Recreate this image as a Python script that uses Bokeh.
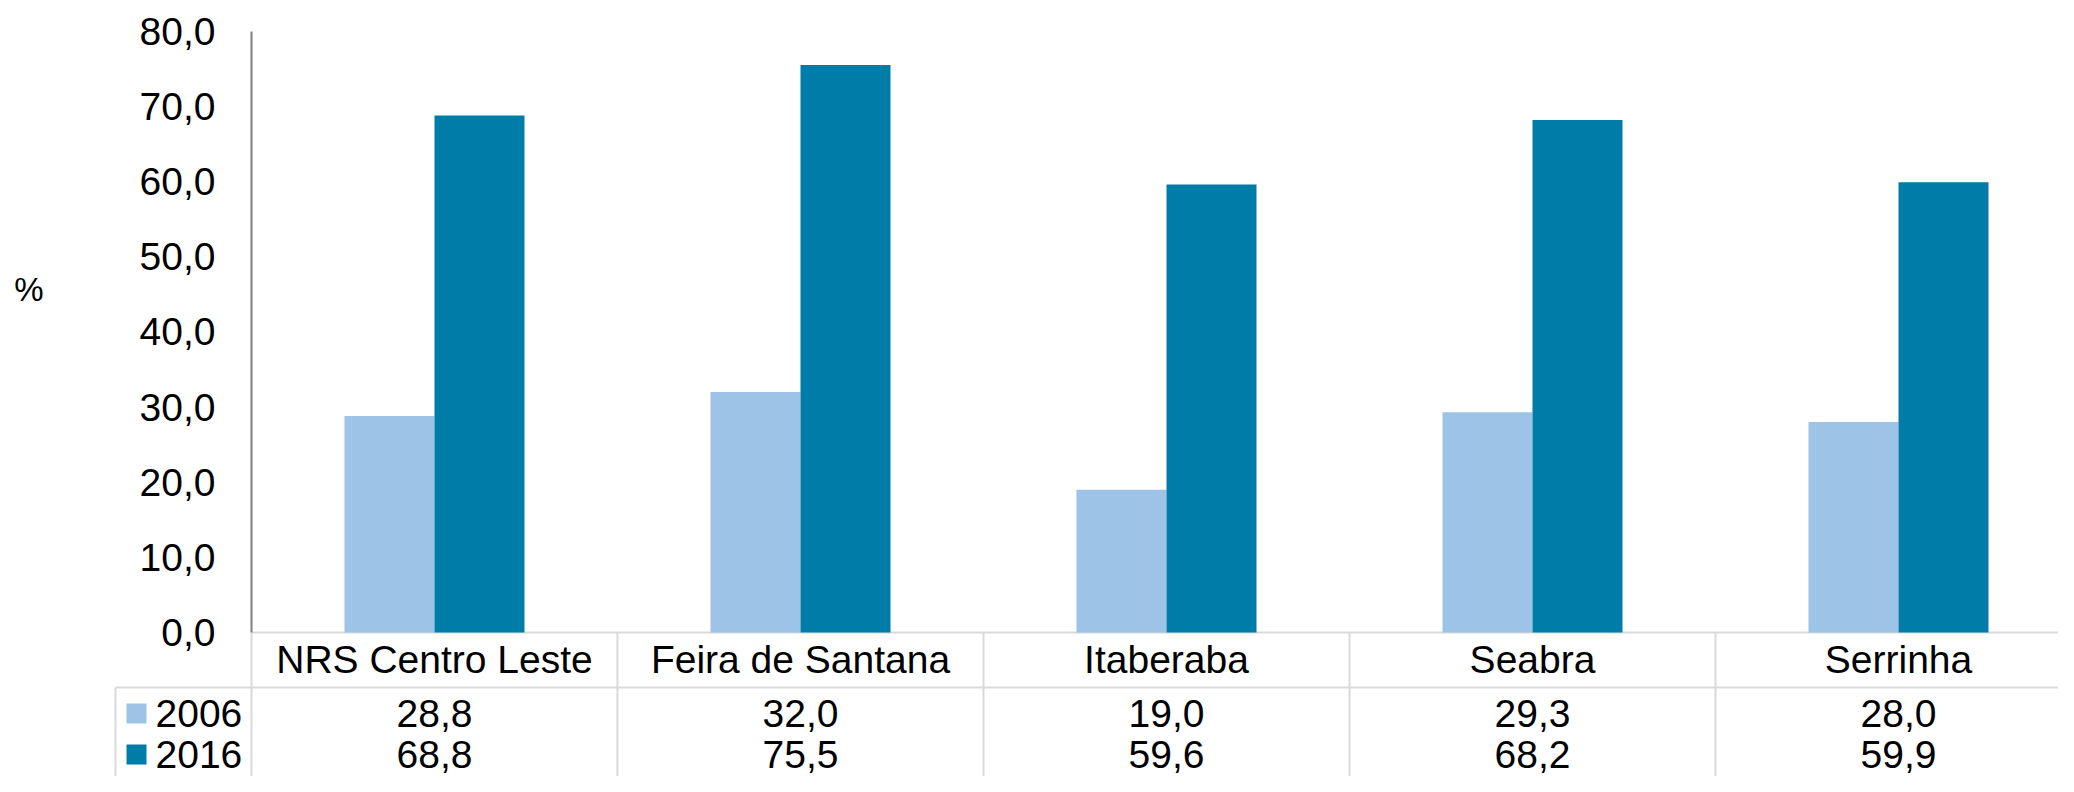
import numpy as np
from bokeh.plotting import figure
from bokeh.models import Range1d, FixedTicker, CustomJSTickFormatter
from bokeh.core.properties import value
from bokeh.embed import file_html
from bokeh.resources import INLINE

# ---------------- data ----------------
categories = ["NRS Centro Leste", "Feira de Santana", "Itaberaba", "Seabra", "Serrinha"]
series_names = ["2006", "2016"]
values_2006 = [28.8, 32.0, 19.0, 29.3, 28.0]
values_2016 = [68.8, 75.5, 59.6, 68.2, 59.9]
y_ticks = [0, 10, 20, 30, 40, 50, 60, 70, 80]
y_unit = "%"

# ---------------- styles / layout ----------------
colors = ["#9dc3e6", "#007ca8"]
FONT = "Liberation Sans"
FS = "39px"
GRID = "#d9d9d9"
W, H = 2058, 776
PX_X0 = 251.0      # px of category-area left edge (y axis)
COL = 366.0        # px per category column
PX_Y0 = 632.0      # px of value 0
KY = 7.515         # px per value unit


def xd(px):
    return (px - PX_X0) / COL


def yd(py):
    return (PX_Y0 - py) / KY


def fmt(v):
    return f"{v:.1f}".replace(".", ",")


n = len(categories)
centers = np.arange(n) + 0.5
bw = 90.0 / COL

p = figure(width=W, height=H, output_backend="svg", toolbar_location=None,
           x_range=Range1d(xd(0), xd(W)), y_range=Range1d(yd(H), yd(0)),
           x_axis_location=None, min_border_left=0, min_border_right=0,
           min_border_top=0, min_border_bottom=0)
p.outline_line_color = None
p.xgrid.visible = False
p.ygrid.visible = False
p.background_fill_color = "white"
p.border_fill_color = "white"

# table lines
row_bottom = yd(687)
table_bottom = yd(H + 20)
legend_left = xd(115)
p.segment(x0=[0], y0=[0], x1=[n], y1=[0], line_color=GRID, line_width=2)
p.segment(x0=[legend_left], y0=[row_bottom], x1=[n], y1=[row_bottom], line_color=GRID, line_width=2)
vx = list(range(n + 1))
p.segment(x0=vx, y0=[0] * len(vx), x1=vx, y1=[table_bottom] * len(vx), line_color=GRID, line_width=2)
p.segment(x0=[legend_left], y0=[row_bottom], x1=[legend_left], y1=[table_bottom], line_color=GRID, line_width=2)

# bars
p.vbar(x=centers - bw / 2, top=values_2006, bottom=0, width=bw, fill_color=colors[0], line_color=None)
p.vbar(x=centers + bw / 2, top=values_2016, bottom=0, width=bw, fill_color=colors[1], line_color=None)

# y axis
ax = p.yaxis[0]
ax.fixed_location = 0
ax.bounds = (y_ticks[0], y_ticks[-1])
ax.ticker = FixedTicker(ticks=y_ticks)
ax.formatter = CustomJSTickFormatter(code="return tick.toFixed(1).replace('.', ',');")
ax.axis_line_color = "#7f7f7f"
ax.axis_line_width = 2
ax.major_tick_line_color = None
ax.minor_tick_line_color = None
ax.major_tick_out = 0
ax.major_tick_in = 0
ax.major_label_standoff = 36
ax.major_label_text_font = FONT
ax.major_label_text_font_size = FS
ax.major_label_text_color = "black"

# unit label
p.text(x=[xd(28.5)], y=[yd(289)], text=[y_unit], text_font=value(FONT),
       text_font_size=value("33px"), text_align="center", text_baseline="middle", text_color="black")

# table texts
cat_y = yd(659)
row_y = [yd(713), yd(754)]
p.text(x=centers, y=[cat_y] * n, text=categories, text_font=value(FONT), text_font_size=value(FS),
       text_align="center", text_baseline="middle", text_color="black")
for vals, ry in zip([values_2006, values_2016], row_y):
    p.text(x=centers, y=[ry] * n, text=[fmt(v) for v in vals], text_font=value(FONT),
           text_font_size=value(FS), text_align="center", text_baseline="middle", text_color="black")

# legend keys in table
p.scatter(x=[xd(136)] * 2, y=row_y, marker="square", size=20, fill_color=colors, line_color=None)
p.text(x=[xd(155)] * 2, y=row_y, text=series_names, text_font=value(FONT), text_font_size=value(FS),
       text_align="left", text_baseline="middle", text_color="black")

open("out.html", "w").write(file_html(p, INLINE))
